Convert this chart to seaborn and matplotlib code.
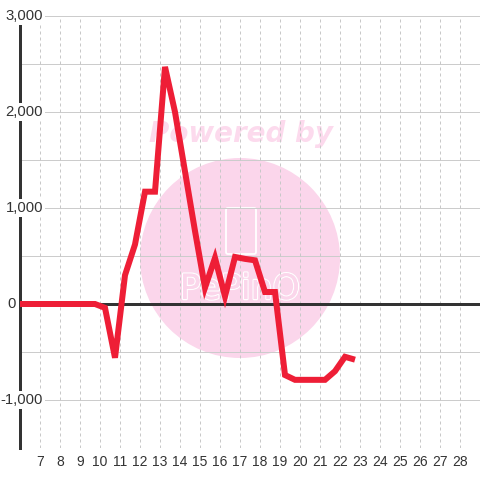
import matplotlib
matplotlib.use("Agg")
import matplotlib.pyplot as plt
import matplotlib.patheffects as pe
from matplotlib.patches import Circle, FancyBboxPatch
import seaborn as sns
import pandas as pd

# ---- data ----
x_values = [5.75, 6.25, 6.75, 7.25, 7.75, 8.25, 8.75, 9.25, 9.75, 10.25,
            10.75, 11.25, 11.75, 12.25, 12.75, 13.25, 13.75, 14.25, 14.75,
            15.25, 15.75, 16.25, 16.75, 17.25, 17.75, 18.25, 18.75, 19.25,
            19.75, 20.25, 20.75, 21.25, 21.75, 22.25, 22.75]
y_values = [0, 0, 0, 0, 0, 0, 0, 0, 0, -40,
            -560, 300, 620, 1170, 1170, 2470, 2000, 1380, 760,
            170, 480, 80, 490, 470, 455, 125, 125, -740,
            -790, -790, -790, -790, -700, -550, -580]
x_ticks = [7, 8, 9, 10, 11, 12, 13, 14, 15, 16, 17, 18, 19, 20, 21, 22, 23,
           24, 25, 26, 27, 28]
y_labels = {3000: "3,000", 2000: "2,000", 1000: "1,000", 0: "0", -1000: "-1,000"}
y_grid = [-1500, -1000, -500, 0, 500, 1000, 1500, 2000, 2500, 3000]
x_grid = list(range(6, 30))

sns.set_style("white")
plt.rcParams["font.family"] = ["Liberation Sans", "DejaVu Sans"]

fig = plt.figure(figsize=(4.8, 4.8), dpi=100)
ax = fig.add_axes([20 / 480, 1 - 448 / 480, 460 / 480, 432 / 480])
ax.set_xlim(6, 29)
ax.set_ylim(-1500, 3000)

PX = 0.72  # points per pixel
PINK = "#fbd6eb"

# watermark (inside axes, below grid)
circ = Circle((0.5, 1 - 258 / 480), 100 / 480, transform=fig.transFigure,
              facecolor=PINK, edgecolor="none", zorder=0.3, clip_on=False)
ax.add_patch(circ)
ax.text(241 / 480, 1 - 134 / 480, "Powered by", ha="center", va="center",
        fontsize=20, fontweight="bold", fontstyle="italic",
        family="DejaVu Sans", color="#fcdaed", zorder=0.4,
        transform=fig.transFigure, clip_on=False)
phone = FancyBboxPatch((226 / 480, 1 - 254 / 480), 30 / 480, 46 / 480,
                       boxstyle="round,pad=0,rounding_size=0.004",
                       transform=fig.transFigure, facecolor="none",
                       edgecolor="white", lw=1.3, zorder=0.45, clip_on=False)
ax.add_patch(phone)
t = ax.text(240 / 480, 1 - 289 / 480, "PePinO", ha="center", va="center",
            fontsize=25, color=PINK, family="DejaVu Sans", zorder=0.45,
            transform=fig.transFigure, clip_on=False)
t.set_path_effects([pe.withStroke(linewidth=1.8, foreground="white"),
                    pe.Normal()])

# grid
for g in y_grid:
    ax.axhline(g, color="#cccccc", lw=1 * PX, zorder=1)
for g in x_grid:
    ax.axvline(g, color="#c8c8c8", lw=1 * PX, ls=(0, (3, 3)), zorder=1)
ax.axhline(0, color="#333333", lw=3 * PX, zorder=2)

df = pd.DataFrame({"x": x_values, "y": y_values})
sns.lineplot(data=df, x="x", y="y", ax=ax, color="#ee1e36", lw=6 * PX,
             zorder=3, sort=False, estimator=None)
for ln in ax.lines[-1:]:
    ln.set_solid_capstyle("butt")
    ln.set_solid_joinstyle("miter")

for s in ["top", "right", "bottom"]:
    ax.spines[s].set_visible(False)
ax.spines["left"].set_color("#333333")
ax.spines["left"].set_linewidth(3 * PX)
ax.spines["left"].set_zorder(2.5)

ax.set_xticks(x_ticks)
ax.set_xticklabels([str(v) for v in x_ticks])
ax.tick_params(axis="x", length=0, pad=5, labelsize=10, colors="#333333")
ax.set_yticks([])
ax.set_xlabel("")
ax.set_ylabel("")

for val, lab in y_labels.items():
    if val == 0:
        ax.text(5.78, val, lab, ha="right", va="center", fontsize=10.7,
                color="#333333", zorder=5, clip_on=False)
    else:
        ax.text(7.15, val, lab, ha="right", va="center", fontsize=10.7,
                color="#333333", zorder=5, clip_on=False,
                bbox=dict(facecolor="white", edgecolor="none", pad=1.5))

fig.savefig("out.png", dpi=100)
